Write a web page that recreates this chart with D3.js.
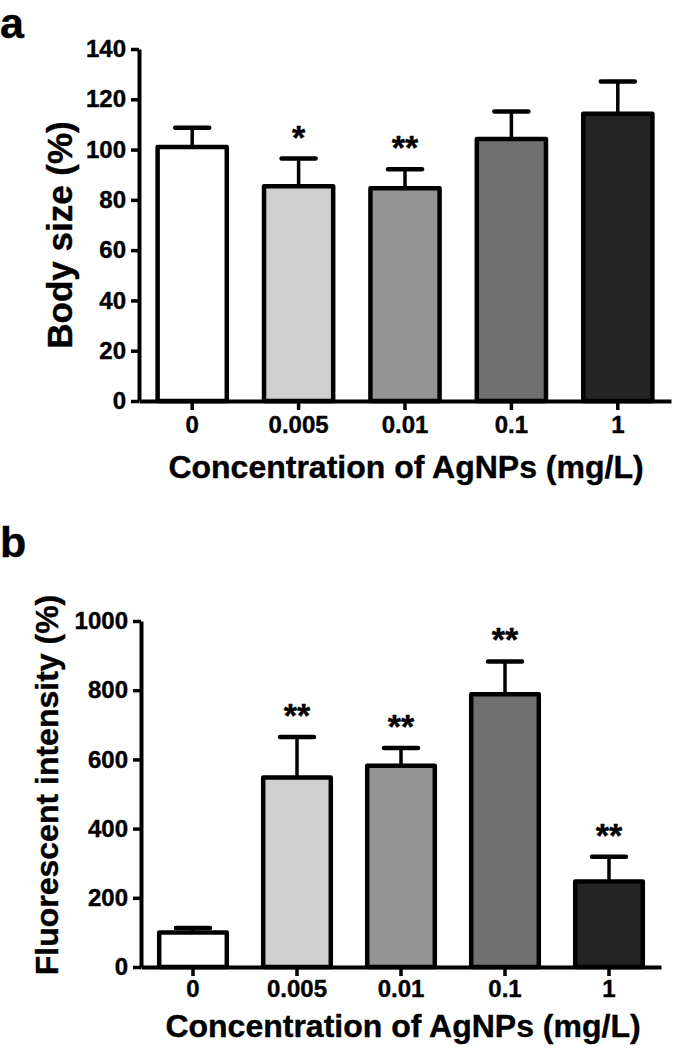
<!DOCTYPE html>
<html>
<head>
<meta charset="utf-8">
<script src="https://cdn.jsdelivr.net/npm/d3@7"></script>
<style>
  body { margin: 0; background: #fff; }
  text { font-family: "Liberation Sans", Arial, sans-serif; font-weight: bold; fill: #000; stroke: #000; stroke-width: 0.4px; }
</style>
</head>
<body>
<svg id="fig" width="675" height="1051"></svg>
<script>
// data
const concentrations = ['0', '0.005', '0.01', '0.1', '1'];
const barFills = ['#ffffff', '#cfcfcf', '#949494', '#707070', '#242424'];

const bodySizeMean = [101, 85.4, 84.6, 104.2, 114.2];
const bodySizeSD = [7.7, 11, 7.6, 10.9, 12.9];
const bodySizeSig = ['', '*', '**', '', ''];
const bodySizeTicks = [0, 20, 40, 60, 80, 100, 120, 140];

const fluorMean = [100, 548, 582, 788, 247];
const fluorSD = [13, 117, 51, 95, 72];
const fluorSig = ['', '**', '**', '**', '**'];
const fluorTicks = [0, 200, 400, 600, 800, 1000];

const svg = d3.select('#fig');

function drawPanel (opts) {
  var g = svg.append('g');

  var x = d3.scaleBand()
    .domain(concentrations)
    .range([opts.left, opts.right])
    .paddingInner(0.35)
    .paddingOuter(0.175);

  var y = d3.scaleLinear()
    .domain([0, d3.max(opts.ticks)])
    .range([opts.bottom, opts.top]);

  var rows = concentrations.map((c, i) => ({
    c: c, mean: opts.means[i], sd: opts.sds[i], sig: opts.sig[i], fill: barFills[i]
  }));

  // error bars (upper only, like prism)
  var err = g.append('g').attr('stroke', '#000').attr('stroke-linecap', 'round');
  err.selectAll('line.stem')
    .data(rows)
    .enter().append('line')
      .attr('class', 'stem')
      .attr('x1', d => x(d.c) + x.bandwidth() / 2)
      .attr('x2', d => x(d.c) + x.bandwidth() / 2)
      .attr('y1', d => y(d.mean))
      .attr('y2', d => y(d.mean + d.sd))
      .attr('stroke-width', 3.5);
  err.selectAll('line.cap')
    .data(rows)
    .enter().append('line')
      .attr('class', 'cap')
      .attr('x1', d => x(d.c) + x.bandwidth() / 2 - 17)
      .attr('x2', d => x(d.c) + x.bandwidth() / 2 + 17)
      .attr('y1', d => y(d.mean + d.sd))
      .attr('y2', d => y(d.mean + d.sd))
      .attr('stroke-width', 4.5);

  g.append('g')
    .selectAll('rect')
    .data(rows)
    .enter().append('rect')
      .attr('x', d => x(d.c))
      .attr('y', d => y(d.mean))
      .attr('width', x.bandwidth())
      .attr('height', d => y(0) - y(d.mean))
      .attr('fill', d => d.fill)
      .attr('stroke', '#000')
      .attr('stroke-width', 4.5)
      .attr('stroke-linejoin', 'round');

  // significance stars
  g.append('g')
    .selectAll('text')
    .data(rows.filter(d => d.sig))
    .enter().append('text')
      .attr('x', d => x(d.c) + x.bandwidth() / 2)
      .attr('y', d => y(d.mean + d.sd) - 10)
      .attr('text-anchor', 'middle')
      .style('font-size', '34px')
      .text(d => d.sig);

  // axes
  var yAxis = g.append('g')
    .attr('transform', 'translate(' + opts.left + ',0)')
    .call(d3.axisLeft(y).tickValues(opts.ticks).tickFormat(d3.format('d'))
      .tickSize(8).tickPadding(5).tickSizeOuter(0));

  var xAxis = g.append('g')
    .attr('transform', 'translate(0,' + opts.bottom + ')')
    .call(d3.axisBottom(x).tickSize(9).tickSizeOuter(0));

  [yAxis, xAxis].forEach(a => {
    a.selectAll('path.domain').attr('stroke', '#000').attr('stroke-width', 4);
    a.selectAll('.tick line').attr('stroke', '#000').attr('stroke-width', 3.5);
    a.selectAll('.tick text').style('font-size', '24px').attr('fill', '#000');
  });
  yAxis.selectAll('.tick text').attr('x', -13);
  xAxis.selectAll('.tick text').attr('y', opts.xTickBase).attr('dy', 0);

  // titles
  g.append('text')
    .attr('transform', 'translate(' + opts.yTitleX + ',' + opts.yTitleY + ') rotate(-90)')
    .attr('text-anchor', 'middle')
    .style('font-size', opts.yTitleSize + 'px')
    .text(opts.yTitle);

  g.append('text')
    .attr('x', opts.xTitleX)
    .attr('y', opts.xTitleY)
    .attr('text-anchor', 'middle')
    .style('font-size', '32px')
    .text('Concentration of AgNPs (mg/L)');

  g.append('text')
    .attr('x', 0)
    .attr('y', opts.letterY)
    .style('font-size', '43px')
    .text(opts.letter);
}

drawPanel({
  letter: 'a', letterY: 38,
  left: 139, right: 671, bottom: 401, top: 49,
  ticks: bodySizeTicks, means: bodySizeMean, sds: bodySizeSD, sig: bodySizeSig,
  xTickBase: 32,
  yTitle: 'Body size (%)', yTitleX: 72, yTitleY: 235, yTitleSize: 35,
  xTitleX: 406, xTitleY: 478
});

drawPanel({
  letter: 'b', letterY: 557,
  left: 141, right: 661, bottom: 967, top: 621,
  ticks: fluorTicks, means: fluorMean, sds: fluorSD, sig: fluorSig,
  xTickBase: 30,
  yTitle: 'Fluorescent intensity (%)', yTitleX: 58, yTitleY: 785, yTitleSize: 32,
  xTitleX: 403, xTitleY: 1037
});
</script>
</body>
</html>
